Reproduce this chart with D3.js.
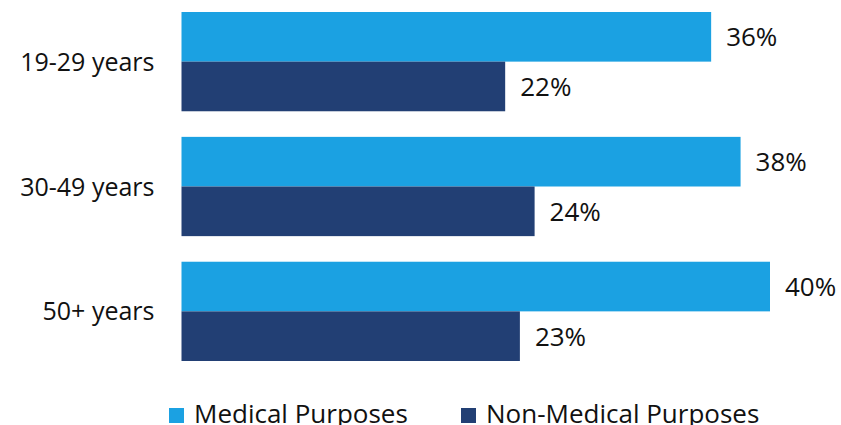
<!DOCTYPE html>
<html>
<head>
<meta charset="utf-8">
<script src="https://cdn.jsdelivr.net/npm/d3@7/dist/d3.min.js"></script>
<style>
  html, body { margin: 0; padding: 0; background: #fff; }
  svg { display: block; }
  text { font-family: "Open Sans", "Noto Sans", sans-serif; fill: #111; }
</style>
</head>
<body>
<svg id="chart" width="841" height="425"></svg>
<script>
// Age groups and the share of each group using for each purpose (%)
const categories = ["19-29 years", "30-49 years", "50+ years"];
const seriesNames = ["Medical Purposes", "Non-Medical Purposes"];
const medical = [36, 38, 40];
const nonMedical = [22, 24, 23];
const seriesColors = ["#1ba1e2", "#223f74"];

const rows = categories.map((c, i) => ({ category: c, values: [medical[i], nonMedical[i]] }));

const svg = d3.select("#chart");

const x = d3.scaleLinear().domain([0, 40]).range([181.5, 770]);
const y = d3.scaleBand().domain(categories).range([12, 361]).paddingInner(0.205).paddingOuter(0);
const ySub = d3.scaleBand().domain(d3.range(seriesNames.length)).range([0, y.bandwidth()]).padding(0);

const groups = svg.append("g").selectAll("g")
  .data(rows)
  .join("g")
  .attr("transform", d => `translate(0,${y(d.category)})`);

groups.selectAll("rect")
  .data(d => d.values.map((v, j) => ({ v, j })))
  .join("rect")
  .attr("x", x(0))
  .attr("y", d => ySub(d.j))
  .attr("width", d => x(d.v) - x(0))
  .attr("height", ySub.bandwidth())
  .attr("fill", d => seriesColors[d.j]);

groups.selectAll("text.value")
  .data(d => d.values.map((v, j) => ({ v, j })))
  .join("text")
  .attr("class", "value")
  .attr("x", d => x(d.v) + 15)
  .attr("y", d => ySub(d.j) + ySub.bandwidth() / 2)
  .attr("dy", "0.36em")
  .style("font-size", "26px")
  .text(d => d.v + "%");

// Category axis: labels only, no line or ticks
const yAxis = svg.append("g")
  .attr("transform", `translate(${x(0) - 27},0)`)
  .call(d3.axisLeft(y).tickSize(0).tickPadding(0));
yAxis.select(".domain").remove();
yAxis.selectAll("text")
  .attr("dy", "0.36em")
  .style("font-size", "25px")
  .style("font-family", "'Open Sans', 'Noto Sans', sans-serif")
  .attr("fill", "#111");

// Legend
const legendX = [169, 461];
const legend = svg.append("g").selectAll("g")
  .data(seriesNames)
  .join("g")
  .attr("transform", (d, i) => `translate(${legendX[i]},408)`);
legend.append("rect")
  .attr("width", 15).attr("height", 15)
  .attr("fill", (d, i) => seriesColors[i]);
legend.append("text")
  .attr("x", 25).attr("y", 15)
  .style("font-size", "26px")
  .text(d => d);
</script>
</body>
</html>
